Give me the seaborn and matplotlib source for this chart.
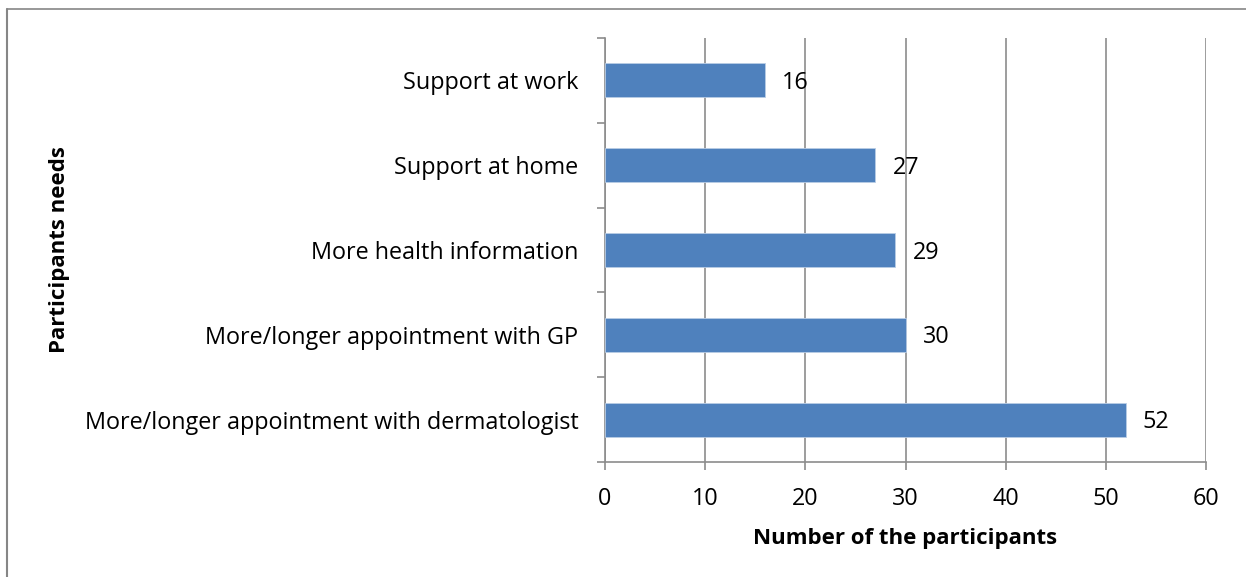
import matplotlib
matplotlib.use("Agg")
import matplotlib.pyplot as plt
import seaborn as sns
import pandas as pd
from matplotlib.lines import Line2D

categories = ["Support at work", "Support at home", "More health information",
              "More/longer appointment with GP", "More/longer appointment with dermatologist"]
values = [16, 27, 29, 30, 52]
xticks = [0, 10, 20, 30, 40, 50, 60]

sns.set_theme(style="white")
plt.rcParams['font.family'] = ['Open Sans', 'DejaVu Sans']
plt.rcParams['text.color'] = 'black'
plt.rcParams['xtick.color'] = 'black'
plt.rcParams['ytick.color'] = 'black'

FS = 16.8
FSB = 16

df = pd.DataFrame({"need": categories, "count": values})

fig = plt.figure(figsize=(12.46, 5.77), dpi=100)
ax = fig.add_axes([605/1246, 1-462/577, (1206-605)/1246, (462-38)/577])

sns.barplot(data=df, y="need", x="count", order=categories, color="#4F81BD",
            saturation=1, width=0.4, ax=ax, edgecolor="#B9CDE5", linewidth=0.6, zorder=3)

grid_c = "#8C8C8C"
ax.set_xlim(0, 60)
ax.set_ylim(len(categories) - 0.5, -0.5)
ax.set_xticks(xticks)
ax.set_xticklabels([str(t) for t in xticks], fontsize=FS)
ax.xaxis.grid(True, color=grid_c, linewidth=1.2, zorder=0)
ax.yaxis.grid(False)
ax.set_axisbelow(True)

ax.set_yticks(range(len(categories)))
ax.set_yticklabels(categories, fontsize=FS)
ax.tick_params(axis='y', which='major', left=True, length=0, pad=19, labelcolor='black')
ax.set_yticks([i - 0.5 for i in range(len(categories) + 1)], minor=True)
ax.tick_params(axis='y', which='minor', left=True, length=6, width=1.2, color=grid_c, direction='out')
ax.tick_params(axis='x', which='major', bottom=True, length=6, width=1.2, color=grid_c,
               direction='out', pad=12, labelcolor='black')

for s in ["top", "right"]:
    ax.spines[s].set_visible(False)
for s in ["left", "bottom"]:
    ax.spines[s].set_color(grid_c)
    ax.spines[s].set_linewidth(1.2)

for i, v in enumerate(values):
    ax.text(v + 1.7, i + 0.03, str(v), va="center", ha="left", fontsize=FS, color="black")

ax.set_xlabel("Number of the participants", fontsize=FSB, fontweight="bold", labelpad=12,
              color="black")
ax.set_ylabel("")
fig.text(60/1246, 1-250/577, "Participants needs", rotation=90, fontsize=FSB,
         fontweight="bold", ha="center", va="center", color="black")

fig.add_artist(Line2D([7/1246, 1], [1-9/577, 1-9/577], color="#868686", linewidth=1.2,
                      transform=fig.transFigure))
fig.add_artist(Line2D([7/1246, 7/1246], [0, 1-9/577], color="#868686", linewidth=1.5,
                      transform=fig.transFigure))

fig.savefig("out.png", dpi=100)
